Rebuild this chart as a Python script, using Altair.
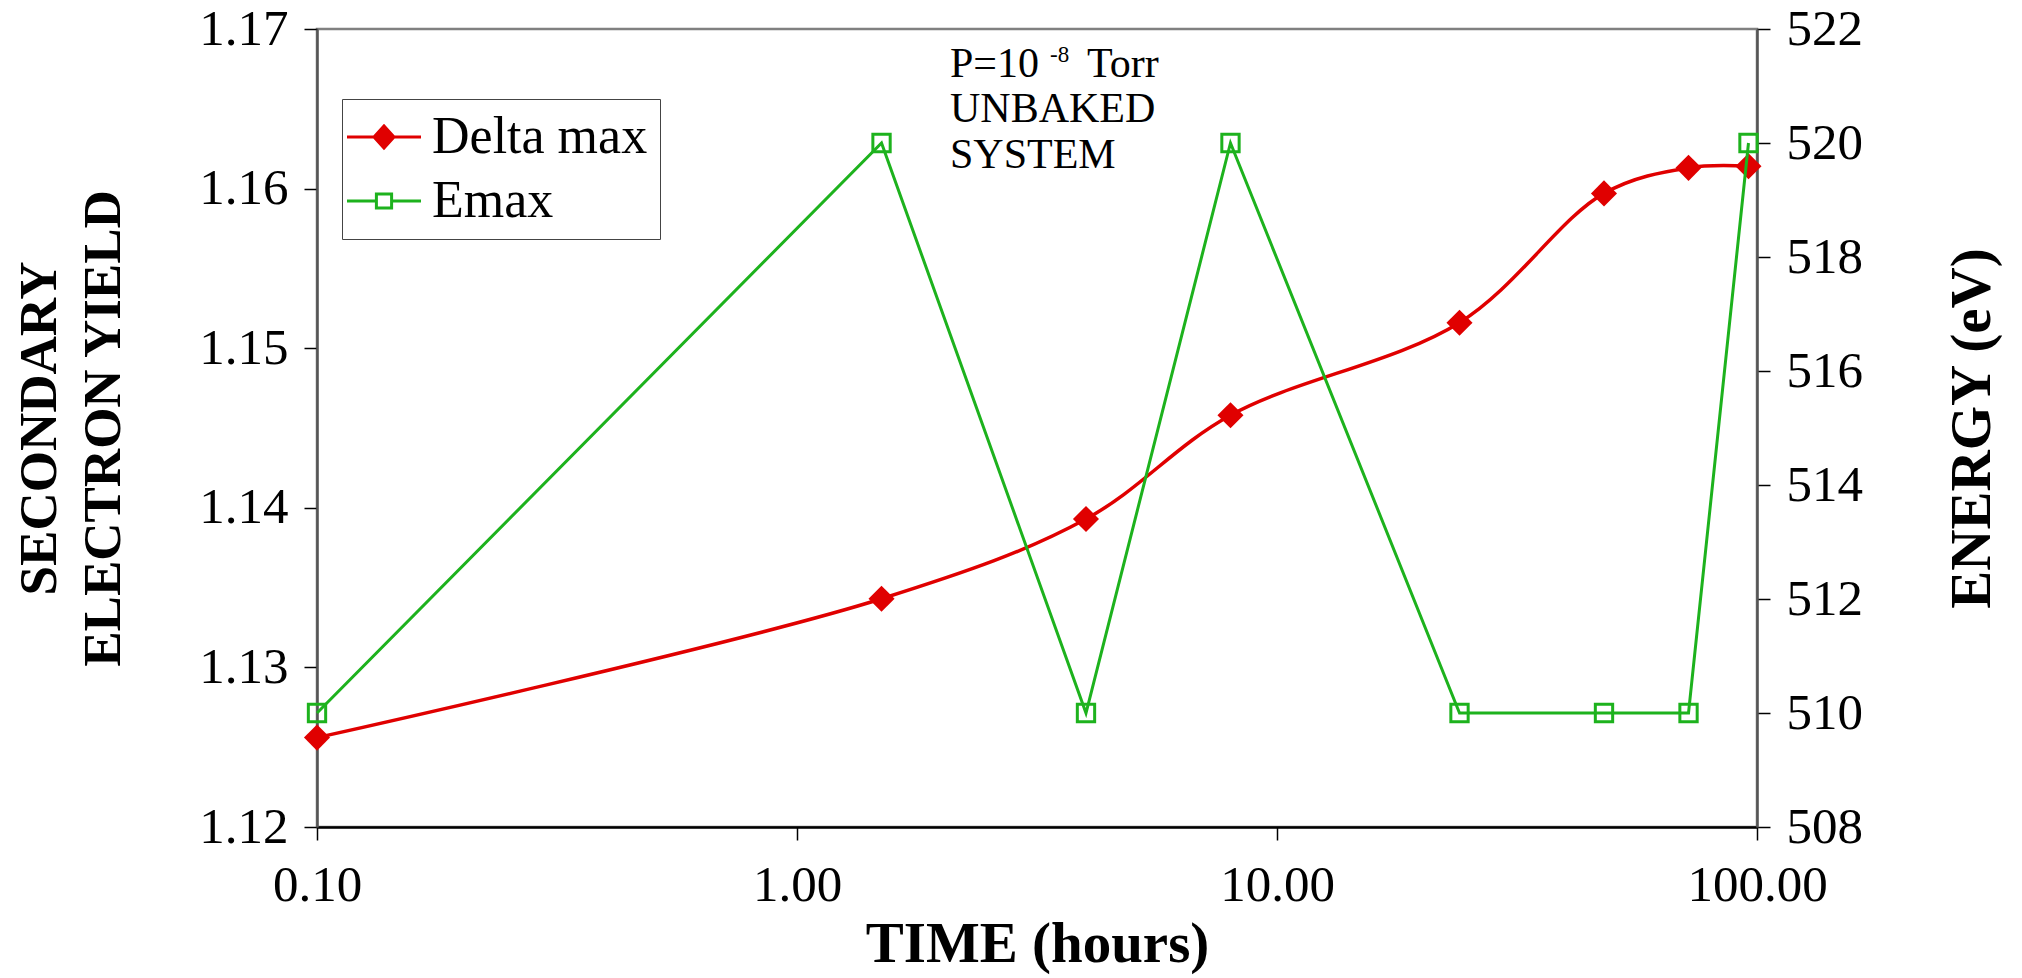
import altair as alt
import pandas as pd

# Exposure time (hours), secondary electron yield maximum and the energy at which it occurs
hours = [0.1, 1.5, 4, 8, 24, 48, 72, 96]
delta_max = [1.1256, 1.1343, 1.1393, 1.1458, 1.1516, 1.1597, 1.1613, 1.1614]
e_max = [510, 520, 510, 520, 510, 510, 510, 520]

series_names = ["Delta max", "Emax"]
series_colors = ["#e00000", "#1db21d"]
legend_fills = ["#e00000", "white"]

x_ticks = [0.1, 1, 10, 100]
yield_ticks = [1.12, 1.13, 1.14, 1.15, 1.16, 1.17]
energy_ticks = [508, 510, 512, 514, 516, 518, 520, 522]

FONT = "Liberation Serif"
RED, GREEN = series_colors

df = pd.DataFrame({"hours": hours, "delta": delta_max, "emax": e_max})

x_enc = alt.X(
    "hours:Q",
    scale=alt.Scale(type="log", domain=[0.1, 100], nice=False),
    axis=alt.Axis(
        values=x_ticks, format=".2f", title="TIME (hours)",
        labelFontSize=51, labelPadding=20, labelFlush=False, labelOverlap=False,
        tickSize=13, tickColor="black", tickWidth=1.5,
        domainColor="black", domainWidth=2.5,
        titleFontSize=57, titleFontWeight="bold", titleX=720, titleY=134,
        titleBaseline="alphabetic", titleAlign="center",
    ),
)

y_left = alt.Y(
    "delta:Q",
    scale=alt.Scale(domain=[1.12, 1.17], nice=False, zero=False),
    axis=alt.Axis(
        orient="left", values=yield_ticks, format=".2f",
        title=["SECONDARY", "ELECTRON YIELD"],
        labelFontSize=51, labelPadding=16,
        tickSize=13, tickColor="black", tickWidth=1.5,
        domainColor="#555555", domainWidth=2.5,
        titleFontSize=53, titleFontWeight="bold", titleLineHeight=64,
        titleAngle=270, titleX=-262, titleY=399,
        titleBaseline="alphabetic", titleAlign="center",
    ),
)

y_right = alt.Y(
    "emax:Q",
    scale=alt.Scale(domain=[508, 522], nice=False, zero=False),
    axis=alt.Axis(
        orient="right", values=energy_ticks, format="d",
        title="ENERGY (eV)",
        labelFontSize=51, labelPadding=16,
        tickSize=13, tickColor="black", tickWidth=1.5,
        domainColor="#555555", domainWidth=2.5,
        titleFontSize=57, titleFontWeight="bold",
        titleAngle=270, titleX=232, titleY=399,
        titleBaseline="alphabetic", titleAlign="center",
    ),
)

base = alt.Chart(df)

delta_line = base.mark_line(color=RED, strokeWidth=3.5, interpolate="catmull-rom").encode(x=x_enc, y=y_left)
delta_pts = base.mark_point(shape="diamond", filled=True, color=RED, size=680, opacity=1).encode(x=x_enc, y=y_left)
left = alt.layer(delta_line, delta_pts)

emax_line = base.mark_line(color=GREEN, strokeWidth=3).encode(x=x_enc, y=y_right)
emax_pts = base.mark_point(shape="square", filled=False, color=GREEN, size=300, strokeWidth=3, opacity=1).encode(
    x=x_enc, y=y_right
)
right = alt.layer(emax_line, emax_pts)

# Legend-only layer: line-and-marker symbols drawn as custom paths
diamond_path = "M-1.85,0L1.85,0M-0.5,0L0,-0.55L0.5,0L0,0.55Z"
square_path = "M-1.85,0L-0.38,0M0.38,0L1.85,0M-0.38,-0.35L0.38,-0.35L0.38,0.35L-0.38,0.35Z"
legend_df = pd.DataFrame({"series": series_names})
legend_spec = dict(
    orient="none", legendX=25, legendY=70, title=None,
    labelFont=FONT, labelFontSize=52, labelColor="black", labelOffset=22, labelLimit=500,
    symbolSize=1600, symbolStrokeWidth=3, symbolOffset=4,
    padding=12, rowPadding=12,
    strokeColor="#444444", fillColor="white",
)
legend_layer = alt.Chart(legend_df).mark_point(opacity=1).encode(
    fill=alt.Fill("series:N", scale=alt.Scale(domain=series_names, range=legend_fills),
                  legend=alt.Legend(**legend_spec)),
    stroke=alt.Stroke("series:N", scale=alt.Scale(domain=series_names, range=series_colors),
                      legend=alt.Legend(**legend_spec)),
    shape=alt.Shape("series:N", scale=alt.Scale(domain=series_names, range=[diamond_path, square_path]),
                    legend=alt.Legend(**legend_spec)),
).transform_filter("false")

# Experimental conditions note
one = alt.Data(values=[{}])
note_kw = dict(font=FONT, align="left", baseline="alphabetic", color="black")
note_p = alt.Chart(one).mark_text(fontSize=42, **note_kw).encode(
    x=alt.value(633), y=alt.value(48), text=alt.value("P=10"))
note_exp = alt.Chart(one).mark_text(fontSize=23, **note_kw).encode(
    x=alt.value(733), y=alt.value(33), text=alt.value("-8"))
note_torr = alt.Chart(one).mark_text(fontSize=42, **note_kw).encode(
    x=alt.value(770), y=alt.value(48), text=alt.value("Torr"))
note_rest = alt.Chart(one).mark_text(fontSize=42, lineHeight=46, **note_kw).encode(
    x=alt.value(633), y=alt.value(93), text=alt.value(["UNBAKED", "SYSTEM"]))

chart = (
    alt.layer(left, right, legend_layer, note_p, note_exp, note_torr, note_rest)
    .resolve_scale(y="independent")
    .properties(
        width=1440, height=798,
        autosize=alt.AutoSizeParams(type="none"),
        padding={"left": 317, "top": 29, "right": 265, "bottom": 151},
        background="white",
    )
    .configure_view(stroke="#808080", strokeWidth=2.5)
    .configure_axis(labelFont=FONT, titleFont=FONT, labelColor="black", titleColor="black", grid=False)
    .configure_text(font=FONT)
)

chart.save("out.html", embed_options={"renderer": "svg", "actions": False})
